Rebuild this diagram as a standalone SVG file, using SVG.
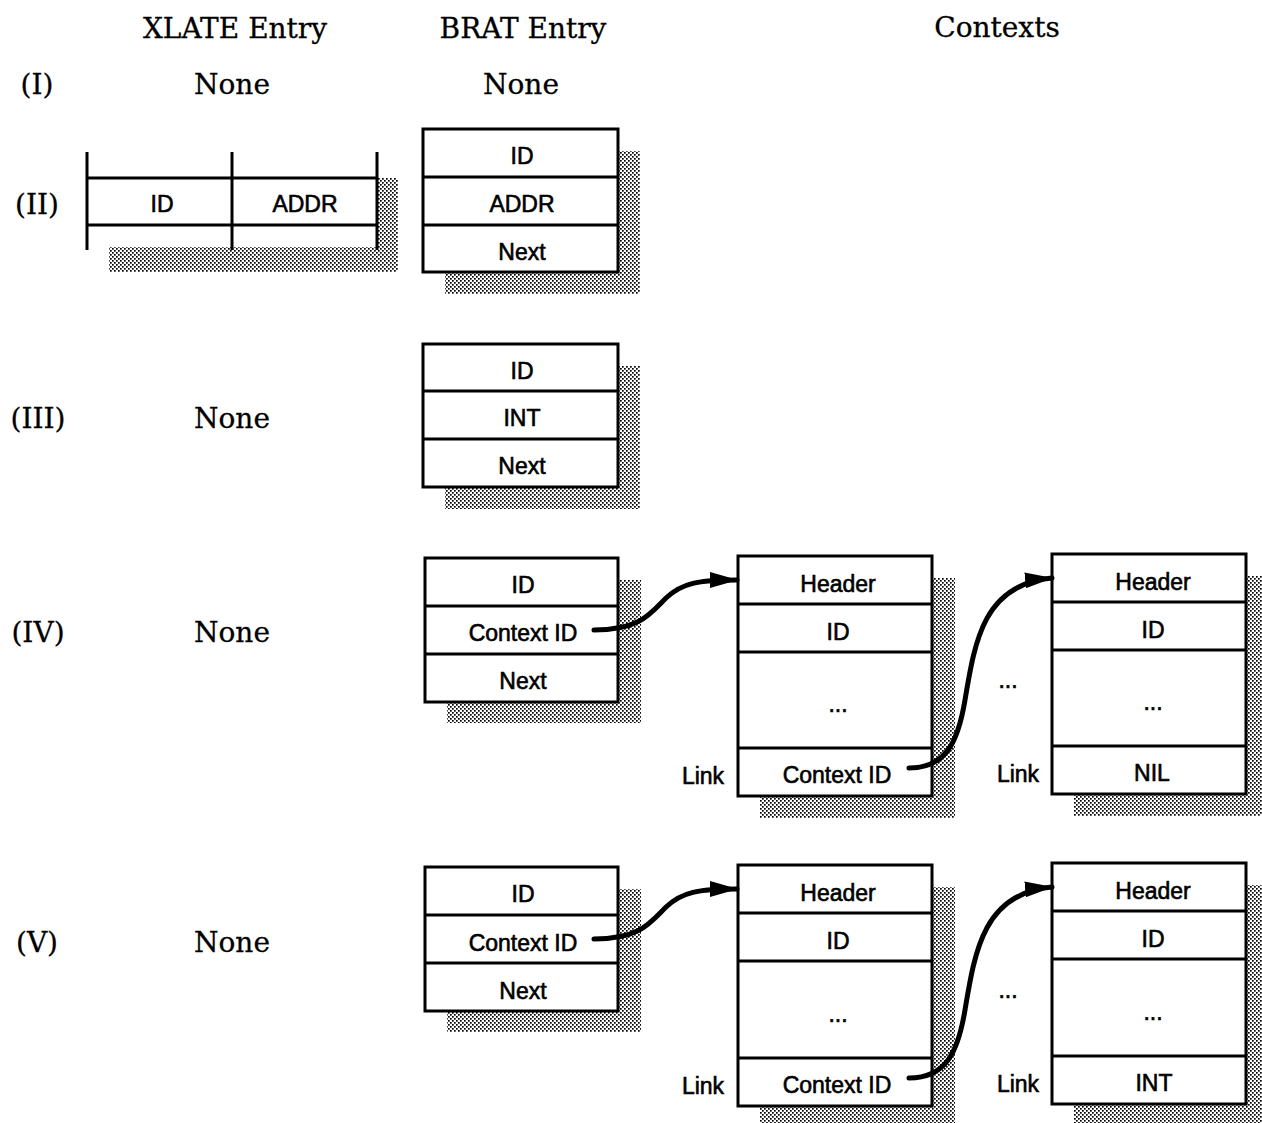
<svg xmlns="http://www.w3.org/2000/svg" width="1262" height="1123" viewBox="0 0 1262 1123">
  <defs>
    <!-- halftone dot screen used for drop shadows -->
    <pattern id="dots" width="4" height="4" patternUnits="userSpaceOnUse">
      <rect width="4" height="4" fill="#fff"/>
      <rect x="0" y="0" width="1.7" height="1.7" fill="#000"/>
      <rect x="2" y="2" width="1.7" height="1.7" fill="#000"/>
    </pattern>
    <marker id="arrow" viewBox="0 0 28 18" refX="27" refY="9" markerWidth="28" markerHeight="18" markerUnits="userSpaceOnUse" orient="auto">
      <path d="M0,1 L28,9 L0,17 Z" fill="#000"/>
    </marker>
  </defs>
  <style>
    .head { font-family: "DejaVu Serif", "Liberation Serif", serif; font-size: 28px; fill: #000; stroke: #000; stroke-width: 0.3; text-anchor: middle; }
    .cell { font-family: "Liberation Sans", Arial, sans-serif; font-size: 23px; fill: #000; stroke: #000; stroke-width: 0.6; text-anchor: middle; }
    .box { fill: #fff; stroke: #000; stroke-width: 3; }
    .div { stroke: #000; stroke-width: 3; fill: none; }
    .shadow { fill: url(#dots); stroke: none; }
    .link { fill: none; stroke: #000; stroke-width: 5; stroke-linecap: round; marker-end: url(#arrow); }
  </style>
  <rect width="1262" height="1123" fill="#fff"/>

  <!-- column headings -->
  <g id="headings">
    <text class="head" x="235" y="38">XLATE Entry</text>
    <text class="head" x="523" y="38">BRAT Entry</text>
    <text class="head" x="997" y="37">Contexts</text>
  </g>

  <!-- row labels -->
  <g id="row-labels">
    <text class="head" x="37" y="94">(I)</text>
    <text class="head" x="37" y="214">(II)</text>
    <text class="head" x="38" y="428">(III)</text>
    <text class="head" x="38" y="642">(IV)</text>
    <text class="head" x="37" y="952">(V)</text>
  </g>

  <!-- empty entries -->
  <g id="none-labels">
    <text class="head" x="232" y="94">None</text>
    <text class="head" x="521" y="94">None</text>
    <text class="head" x="232" y="428">None</text>
    <text class="head" x="232" y="642">None</text>
    <text class="head" x="232" y="952">None</text>
  </g>

  <!-- (II) XLATE entry: open-ended record -->
  <g id="xlate-2">
    <path class="shadow" d="M377,178 H398 V272 H109 V247 H377 Z"/>
    <rect x="87" y="178" width="290" height="47" fill="#fff"/>
    <path class="div" d="M87,152 V250 M232,152 V250 M377,152 V250 M87,178 H377 M87,225 H377"/>
    <text class="cell" x="162" y="212">ID</text>
    <text class="cell" x="305" y="212">ADDR</text>
  </g>

  <!-- (II) BRAT entry -->
  <g id="brat-2">
    <rect class="shadow" x="445" y="151" width="195" height="143"/>
    <rect class="box" x="423" y="129" width="195" height="143"/>
    <path class="div" d="M423,177 H618 M423,225 H618"/>
    <text class="cell" x="522" y="164">ID</text>
    <text class="cell" x="522" y="212">ADDR</text>
    <text class="cell" x="522" y="260">Next</text>
  </g>

  <!-- (III) BRAT entry -->
  <g id="brat-3">
    <rect class="shadow" x="445" y="366" width="195" height="143"/>
    <rect class="box" x="423" y="344" width="195" height="143"/>
    <path class="div" d="M423,391 H618 M423,439 H618"/>
    <text class="cell" x="522" y="379">ID</text>
    <text class="cell" x="522" y="426">INT</text>
    <text class="cell" x="522" y="474">Next</text>
  </g>

  <!-- (IV) BRAT entry -->
  <g id="brat-4">
    <rect class="shadow" x="447" y="580" width="194" height="143"/>
    <rect class="box" x="425" y="558" width="193" height="144"/>
    <path class="div" d="M425,606 H618 M425,654 H618"/>
    <text class="cell" x="523" y="593">ID</text>
    <text class="cell" x="523" y="641">Context ID</text>
    <text class="cell" x="523" y="689">Next</text>
  </g>

  <!-- (IV) first context -->
  <g id="ctx-4a">
    <rect class="shadow" x="760" y="578" width="195" height="240"/>
    <rect class="box" x="738" y="556" width="194" height="240"/>
    <path class="div" d="M738,604 H932 M738,652 H932 M738,748 H932"/>
    <text class="cell" x="838" y="592">Header</text>
    <text class="cell" x="838" y="640">ID</text>
    <text class="cell" x="838" y="712">...</text>
    <text class="cell" x="837" y="783">Context ID</text>
    <text class="cell" x="703" y="784">Link</text>
  </g>

  <!-- (IV) last context -->
  <g id="ctx-4b">
    <rect class="shadow" x="1074" y="576" width="195" height="240"/>
    <rect class="box" x="1052" y="554" width="194" height="240"/>
    <path class="div" d="M1052,602 H1246 M1052,650 H1246 M1052,746 H1246"/>
    <text class="cell" x="1153" y="590">Header</text>
    <text class="cell" x="1153" y="638">ID</text>
    <text class="cell" x="1153" y="710">...</text>
    <text class="cell" x="1152" y="781">NIL</text>
    <text class="cell" x="1018" y="782">Link</text>
    <text class="cell" x="1008" y="688">...</text>
  </g>

  <!-- (V) BRAT entry -->
  <g id="brat-5">
    <rect class="shadow" x="447" y="889" width="194" height="143"/>
    <rect class="box" x="425" y="867" width="193" height="144"/>
    <path class="div" d="M425,915 H618 M425,963 H618"/>
    <text class="cell" x="523" y="902">ID</text>
    <text class="cell" x="523" y="951">Context ID</text>
    <text class="cell" x="523" y="999">Next</text>
  </g>

  <!-- (V) first context -->
  <g id="ctx-5a">
    <rect class="shadow" x="760" y="887" width="195" height="241"/>
    <rect class="box" x="738" y="865" width="194" height="241"/>
    <path class="div" d="M738,913 H932 M738,961 H932 M738,1058 H932"/>
    <text class="cell" x="838" y="901">Header</text>
    <text class="cell" x="838" y="949">ID</text>
    <text class="cell" x="838" y="1022">...</text>
    <text class="cell" x="837" y="1093">Context ID</text>
    <text class="cell" x="703" y="1094">Link</text>
  </g>

  <!-- (V) last context -->
  <g id="ctx-5b">
    <rect class="shadow" x="1074" y="885" width="195" height="241"/>
    <rect class="box" x="1052" y="863" width="194" height="241"/>
    <path class="div" d="M1052,911 H1246 M1052,959 H1246 M1052,1056 H1246"/>
    <text class="cell" x="1153" y="899">Header</text>
    <text class="cell" x="1153" y="947">ID</text>
    <text class="cell" x="1153" y="1020">...</text>
    <text class="cell" x="1154" y="1091">INT</text>
    <text class="cell" x="1018" y="1092">Link</text>
    <text class="cell" x="1008" y="998">...</text>
  </g>

  <!-- pointer links between records -->
  <g id="connectors">
    <path class="link" d="M594,630 C640,630 650,614 666,598 C682,583 698,580 737,580"/>
    <path class="link" d="M909,768 C946,768 958,742 965,700 C975,640 984,584 1052,578"/>
    <path class="link" d="M594,939 C640,939 650,923 666,907 C682,892 698,889 737,889"/>
    <path class="link" d="M909,1078 C946,1078 958,1052 965,1010 C975,950 984,893 1052,887"/>
  </g>
</svg>
